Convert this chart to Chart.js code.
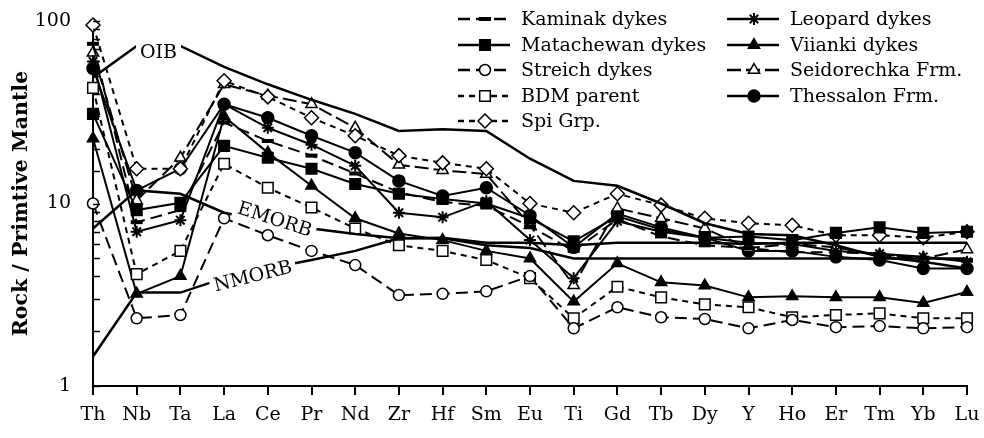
<!DOCTYPE html>
<html>
<head>
<meta charset="utf-8">
<script src="https://cdn.jsdelivr.net/npm/chart.js@4.4.1/dist/chart.umd.min.js"></script>
<style>
  html, body { margin: 0; padding: 0; background: #fff; }
  #wrap { width: 984px; height: 438px; }
</style>
</head>
<body>
<div id="wrap"><canvas id="chart" width="984" height="438"></canvas></div>
<script>
"use strict";

// element order on the x axis
const elements = ["Th", "Nb", "Ta", "La", "Ce", "Pr", "Nd", "Zr", "Hf", "Sm", "Eu",
                  "Ti", "Gd", "Tb", "Dy", "Y", "Ho", "Er", "Tm", "Yb", "Lu"];

// rock / primitive mantle
const kaminak     = [75, 7.9, 9.2, 27.8, 22, 18.3, 14.6, 11.5, 10.2, 9.7, 7.5, 5.5, 8.2, 6.6, 5.9, 5.7, 5.4, 5.4, 5.3, 5.0, 4.9];
const matachewan  = [31, 9.2, 10.1, 20.7, 17.8, 15.5, 12.8, 11.3, 10.6, 10.0, 8.3, 6.2, 8.5, 7.2, 6.5, 6.6, 6.3, 6.9, 7.4, 6.9, 7.0];
const streich     = [10, 2.35, 2.45, 8.3, 6.7, 5.5, 4.6, 3.15, 3.2, 3.3, 4.0, 2.07, 2.7, 2.38, 2.33, 2.07, 2.3, 2.1, 2.13, 2.07, 2.1];
const bdmParent   = [43, 4.1, 5.5, 16.5, 12.2, 9.5, 7.3, 5.9, 5.5, 4.9, 3.9, 2.35, 3.5, 3.06, 2.8, 2.7, 2.38, 2.45, 2.5, 2.35, 2.35];
const spiGrp      = [95, 15.5, 15.5, 47, 38.4, 29.5, 23.5, 18.3, 16.7, 15.5, 10, 8.9, 11.3, 9.8, 8.3, 7.8, 7.6, 6.7, 6.7, 6.5, 7.0];
const leopard     = [60, 7.0, 8.1, 35, 26, 21, 16.1, 8.9, 8.4, 10.3, 6.3, 3.9, 8.0, 7.0, 6.5, 6.1, 6.0, 5.5, 5.3, 5.1, 4.8];
const viianki     = [22.7, 3.2, 4.0, 30, 19, 12.5, 8.3, 6.85, 6.3, 5.5, 5.0, 2.9, 4.7, 3.7, 3.55, 3.06, 3.1, 3.06, 3.06, 2.85, 3.27];
const seidorechka = [67, 10.4, 17.8, 45, 39, 35, 26, 16.3, 15.2, 14.5, 7.6, 3.56, 9.4, 8.3, 7.3, 5.7, 6.0, 5.75, 5.2, 5.0, 5.6];
const thessalon   = [55, 11.8, 15.5, 35, 29.5, 23.5, 19, 13.3, 11.0, 12.2, 8.6, 5.75, 8.8, 7.4, 6.5, 5.5, 5.5, 5.1, 4.9, 4.4, 4.4];

// reference basalts
const oib   = [49, 73, 73, 56, 45, 37, 31, 25, 25.5, 25, 17.6, 13.3, 12.5, 10, 7.8, 6.8, 6.7, 5.9, 5.1, 4.8, 4.4];
const emorb = [7.3, 11.8, 11.3, 8.9, 8.0, 7.3, 6.8, 6.45, 6.45, 5.9, 5.7, 5.0, 5.0, 5.0, 5.0, 5.0, 5.0, 5.0, 5.0, 5.0, 5.0];
const nmorb = [1.45, 3.25, 3.25, 3.9, 4.4, 4.9, 5.5, 6.45, 6.5, 6.1, 6.1, 5.9, 6.1, 6.1, 6.1, 6.0, 6.1, 6.1, 6.1, 6.1, 6.1];

const yLabels = [1, 10, 100];
const FONT = "DejaVu Serif";

function series(label, data, style) {
  return Object.assign({
    label, data, borderColor: "#000", borderWidth: 2, pointBorderColor: "#000",
    pointBackgroundColor: "#000", pointBorderWidth: 1.5, pointRadius: 6, tension: 0,
    fill: false, clip: false,
  }, style);
}

const sets = {
  kaminak: series("Kaminak dykes", kaminak, { borderDash: [12, 6], pointStyle: "line", pointRadius: 6, pointBorderWidth: 4 }),
  matachewan: series("Matachewan dykes", matachewan, { pointStyle: "rect", pointRadius: 7.5 }),
  streich: series("Streich dykes", streich, { borderDash: [12, 6], pointStyle: "circle", pointRadius: 5.5, pointBackgroundColor: "#fff" }),
  bdm: series("BDM parent", bdmParent, { borderDash: [6, 5], pointStyle: "rect", pointRadius: 7.5, pointBackgroundColor: "#fff" }),
  spi: series("Spi Grp.", spiGrp, { borderDash: [6, 5], pointStyle: "rectRot", pointRadius: 7, pointBackgroundColor: "#fff" }),
  leopard: series("Leopard dykes", leopard, { pointStyle: "star", pointRadius: 6, pointBorderWidth: 2 }),
  viianki: series("Viianki dykes", viianki, { pointStyle: "triangle", pointRadius: 6.5 }),
  seidorechka: series("Seidorechka Frm.", seidorechka, { borderDash: [14, 5], pointStyle: "triangle", pointRadius: 6.5, pointBackgroundColor: "#fff" }),
  thessalon: series("Thessalon Frm.", thessalon, { pointStyle: "circle", pointRadius: 6 }),
  oib: series("OIB", oib, { pointRadius: 0, borderWidth: 2.5 }),
  emorb: series("EMORB", emorb, { pointRadius: 0, borderWidth: 2.5 }),
  nmorb: series("NMORB", nmorb, { pointRadius: 0, borderWidth: 2.5 }),
};

// in-plot labels for the reference curves (x as element index, y as value)
const refLabels = [
  { text: "OIB", at: 1.5, val: 68, rot: 0 },
  { text: "EMORB", at: 4.16, val: 8.2, rot: 18 },
  { text: "NMORB", at: 3.66, val: 4.0, rot: -14 },
];

const legendCols = [
  { x: 458, items: ["kaminak", "matachewan", "streich", "bdm", "spi"] },
  { x: 727, items: ["leopard", "viianki", "seidorechka", "thessalon"] },
];
const legendRows = [19, 45, 70, 96, 121];

function marker(ctx, ds, x, y) {
  ctx.save();
  ctx.setLineDash([]);
  ctx.fillStyle = ds.pointBackgroundColor;
  ctx.strokeStyle = ds.pointBorderColor;
  ctx.lineWidth = ds.pointBorderWidth;
  Chart.helpers.drawPoint(ctx, { pointStyle: ds.pointStyle, radius: ds.pointRadius, rotation: 0, borderWidth: ds.pointBorderWidth }, x, y);
  ctx.restore();
}

const overlay = {
  id: "overlay",
  afterDatasetsDraw(chart) {
    const { ctx, chartArea: area } = chart;
    const xs = chart.scales.x, ys = chart.scales.y;

    // inward y ticks (log minor + major)
    ctx.save();
    ctx.strokeStyle = "#000";
    ctx.lineWidth = 1.5;
    ys.ticks.forEach((t) => {
      const py = Math.round(ys.getPixelForValue(t.value)) + 0.5;
      ctx.beginPath();
      ctx.moveTo(area.left, py);
      ctx.lineTo(area.left + 7, py);
      ctx.stroke();
    });
    ctx.restore();

    // OIB / EMORB / NMORB labels with a white knockout
    ctx.save();
    ctx.font = `19px "${FONT}"`;
    ctx.textAlign = "center";
    ctx.textBaseline = "middle";
    for (const l of refLabels) {
      const px = xs.getPixelForValue(l.at), py = ys.getPixelForValue(l.val);
      const w = ctx.measureText(l.text).width;
      ctx.save();
      ctx.translate(px, py);
      ctx.rotate((l.rot * Math.PI) / 180);
      ctx.fillStyle = "#fff";
      ctx.fillRect(-w / 2 - 4, -10, w + 8, 20);
      ctx.fillStyle = "#000";
      ctx.fillText(l.text, 0, 1);
      ctx.restore();
    }
    ctx.restore();

    // legend, two columns
    ctx.save();
    ctx.font = `19px "${FONT}"`;
    ctx.textBaseline = "middle";
    ctx.textAlign = "left";
    for (const col of legendCols) {
      col.items.forEach((key, i) => {
        const ds = sets[key];
        const y = legendRows[i];
        ctx.save();
        ctx.strokeStyle = "#000";
        ctx.lineWidth = 2.5;
        ctx.setLineDash(ds.borderDash || []);
        ctx.beginPath();
        ctx.moveTo(col.x, y);
        ctx.lineTo(col.x + 52, y);
        ctx.stroke();
        ctx.restore();
        marker(ctx, ds, col.x + 27, y);
        ctx.fillStyle = "#000";
        ctx.fillText(ds.label, col.x + 63, y + 1);
      });
    }
    ctx.restore();
  },
};

new Chart(document.getElementById("chart"), {
  type: "line",
  data: {
    labels: elements,
    datasets: [sets.oib, sets.emorb, sets.nmorb, sets.kaminak, sets.matachewan, sets.streich,
               sets.bdm, sets.spi, sets.leopard, sets.viianki, sets.seidorechka, sets.thessalon],
  },
  options: {
    responsive: false, animation: false, devicePixelRatio: 1,
    layout: { padding: { top: 21, right: 17, left: 0, bottom: 0 } },
    plugins: { legend: { display: false }, tooltip: { enabled: false } },
    scales: {
      x: {
        type: "category", offset: false,
        grid: { drawOnChartArea: false, drawTicks: true, tickLength: 9, color: "#000", lineWidth: 2 },
        border: { color: "#000", width: 2 },
        ticks: { color: "#000", font: { family: FONT, size: 19 }, padding: 9, maxRotation: 0, autoSkip: false },
        afterFit: (s) => { s.height = 52; s.paddingLeft = 0; s.paddingRight = 0; },
      },
      y: {
        type: "logarithmic", min: 1, max: 100,
        grid: { drawOnChartArea: false, drawTicks: false },
        border: { color: "#000", width: 2 },
        ticks: {
          color: "#000", font: { family: FONT, size: 19 }, padding: 22, autoSkip: false,
          callback: (v) => (yLabels.includes(v) ? String(v) : ""),
        },
        title: {
          display: true, text: "Rock / Primtive Mantle", color: "#000",
          font: { family: FONT, size: 20.5, weight: "bold" }, padding: { top: 9, bottom: 0 },
        },
        afterFit: (s) => { s.width = 93; s.paddingTop = 0; s.paddingBottom = 0; },
      },
    },
  },
  plugins: [overlay],
});
</script>
</body>
</html>
